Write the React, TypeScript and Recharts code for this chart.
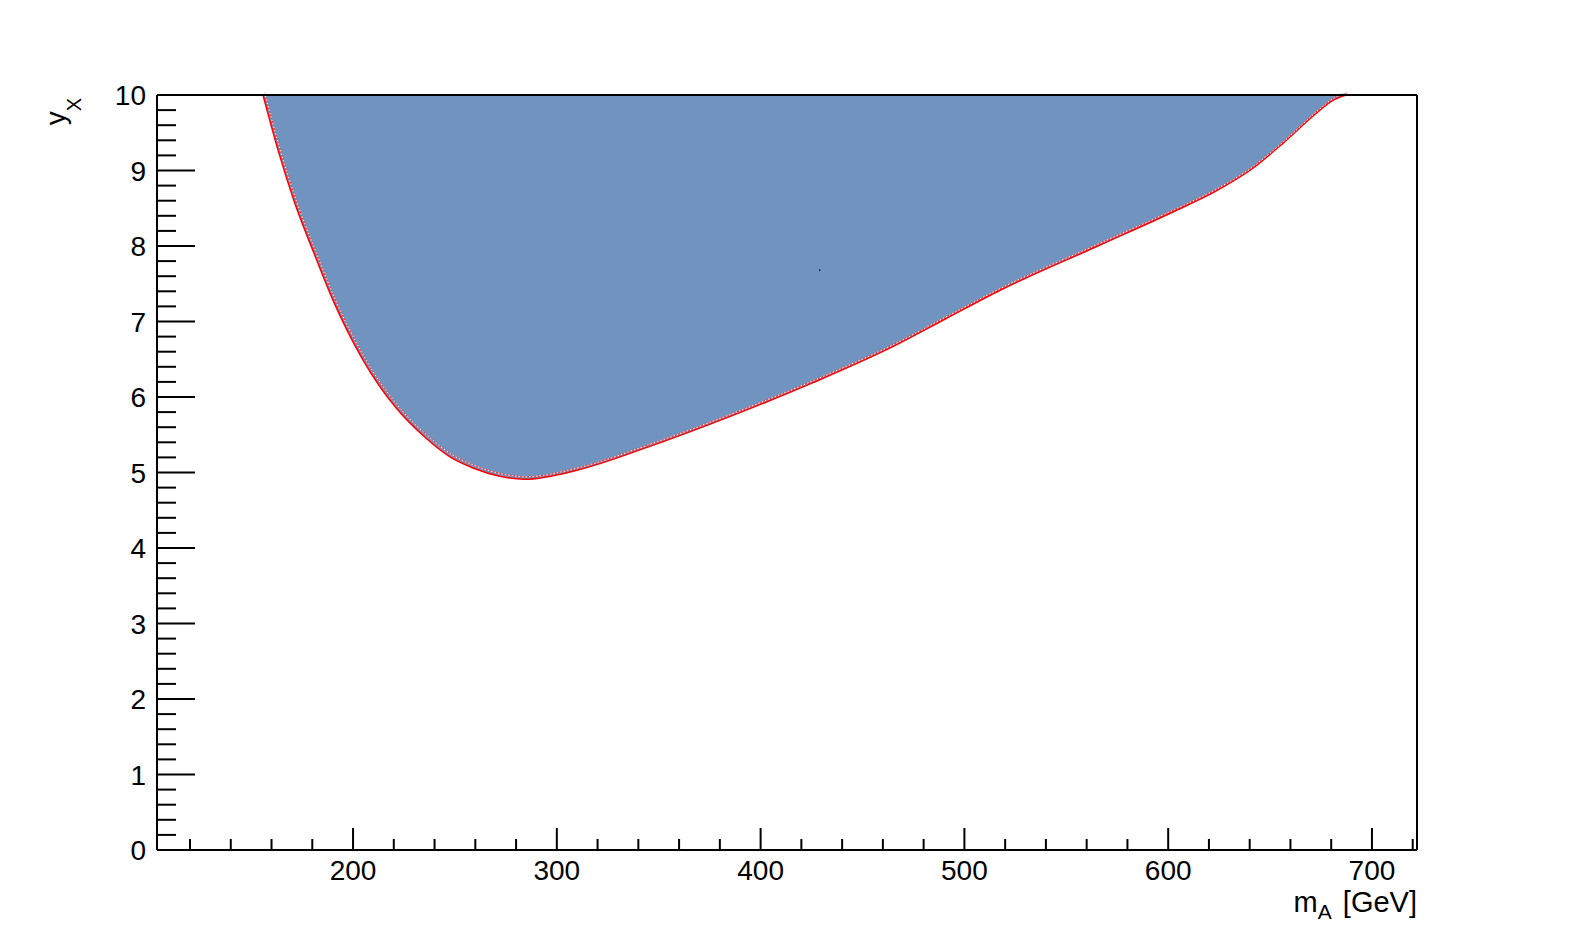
import React from "react";
import { ComposedChart, Area, Line, XAxis, YAxis, Scatter } from "recharts";

// boundary of the excluded region (m_A [GeV], y_X)
const massValues = [
  155.8, 163.2, 171.4, 181.2, 190.2, 204.9, 221.3, 236.0, 247.4, 258.9, 272.0,
  284.0, 311.2, 343.9, 384.8, 425.7, 466.6, 491.1, 517.3, 566.3, 602.3, 623.6,
  640.0, 656.3, 672.7, 680.8, 687.4,
];
const yxValues = [
  10.0, 9.27, 8.57, 7.88, 7.28, 6.49, 5.85, 5.45, 5.21, 5.06, 4.95,
  4.91, 5.04, 5.33, 5.74, 6.19, 6.69, 7.04, 7.41, 8.01, 8.45, 8.73,
  9.0, 9.36, 9.76, 9.93, 10.0,
];
const yTop = 10;

const markerPoint = [{ m: 429, y: 7.68 }];

const xMajorTicks = [200, 300, 400, 500, 600, 700];
const xAllTicks = [
  120, 140, 160, 180, 200, 220, 240, 260, 280, 300, 320, 340, 360, 380, 400,
  420, 440, 460, 480, 500, 520, 540, 560, 580, 600, 620, 640, 660, 680, 700, 720,
];
const yMajorTicks = [0, 1, 2, 3, 4, 5, 6, 7, 8, 9, 10];
const yAllTicks = [
  0, 0.2, 0.4, 0.6, 0.8, 1, 1.2, 1.4, 1.6, 1.8, 2, 2.2, 2.4, 2.6, 2.8, 3, 3.2,
  3.4, 3.6, 3.8, 4, 4.2, 4.4, 4.6, 4.8, 5, 5.2, 5.4, 5.6, 5.8, 6, 6.2, 6.4, 6.6,
  6.8, 7, 7.2, 7.4, 7.6, 7.8, 8, 8.2, 8.4, 8.6, 8.8, 9, 9.2, 9.4, 9.6, 9.8, 10,
];

const data = massValues.map((m, i) => ({
  m,
  y: yxValues[i],
  band: [yxValues[i], yTop],
}));

const FONT = "'Liberation Sans', Arial, Helvetica, sans-serif";
const FILL = "#7094bf";

const XTick = (props: any) => {
  const { x, y, payload } = props;
  const major = xMajorTicks.includes(payload.value);
  return (
    <g>
      <line x1={x} x2={x} y1={y} y2={y - (major ? 22 : 11)} stroke="#000" strokeWidth={2} />
      {major && (
        <text x={x} y={y + 30} textAnchor="middle" fontSize={28} fontFamily={FONT} fill="#000">
          {payload.value}
        </text>
      )}
    </g>
  );
};

const YTick = (props: any) => {
  const { x, y, payload } = props;
  const major = yMajorTicks.includes(payload.value);
  return (
    <g>
      <line x1={x} x2={x + (major ? 38 : 19)} y1={y} y2={y} stroke="#000" strokeWidth={2} />
      {major && (
        <text x={x - 11} y={y} dy="0.36em" textAnchor="end" fontSize={28} fontFamily={FONT} fill="#000">
          {payload.value}
        </text>
      )}
    </g>
  );
};

const XTitle = (props: any) => {
  const vb = props.viewBox || {};
  const xr = vb.x + vb.width;
  const yb = vb.y + 62;
  return (
    <text x={xr} y={yb} textAnchor="end" fontSize={29} fontFamily={FONT} fill="#000">
      <tspan>m</tspan>
      <tspan fontSize={21} dy={7}>A</tspan>
      <tspan dy={-7} dx={3}>{"\u00a0[GeV]"}</tspan>
    </text>
  );
};

const YTitle = (props: any) => {
  const vb = props.viewBox || {};
  const bx = vb.x + vb.width - 92;
  const ty = vb.y + 3;
  return (
    <text
      transform={`translate(${bx},${ty}) rotate(-90)`}
      x={0}
      y={0}
      textAnchor="end"
      fontSize={28}
      fontFamily={FONT}
      fill="#000"
    >
      <tspan>y</tspan>
      <tspan fontSize={20} dy={16}>X</tspan>
    </text>
  );
};

export default function App() {
  return (
    <div style={{ position: "absolute", left: 0, top: 0, width: 1575, height: 945, background: "#fff" }}>
      <ComposedChart
        width={1575}
        height={945}
        data={data}
        margin={{ top: 94, right: 157, bottom: 94, left: 156 }}
      >
        <XAxis
          xAxisId="b"
          dataKey="m"
          type="number"
          domain={[103.8, 722.1]}
          allowDataOverflow
          ticks={xAllTicks}
          interval={0}
          tick={<XTick />}
          tickLine={false}
          tickSize={0}
          tickMargin={0}
          height={1}
          axisLine={{ stroke: "#000", strokeWidth: 2 }}
          label={<XTitle />}
        />
        <XAxis
          xAxisId="t"
          orientation="top"
          dataKey="m"
          type="number"
          domain={[103.8, 722.1]}
          allowDataOverflow
          tick={false}
          tickLine={false}
          height={1}
          axisLine={{ stroke: "#000", strokeWidth: 2 }}
        />
        <YAxis
          yAxisId="l"
          type="number"
          domain={[0, 10]}
          allowDataOverflow
          ticks={yAllTicks}
          interval={0}
          tick={<YTick />}
          tickLine={false}
          tickSize={0}
          tickMargin={0}
          width={1}
          axisLine={{ stroke: "#000", strokeWidth: 2 }}
          label={<YTitle />}
        />
        <YAxis
          yAxisId="r"
          orientation="right"
          type="number"
          domain={[0, 10]}
          allowDataOverflow
          tick={false}
          tickLine={false}
          width={1}
          axisLine={{ stroke: "#000", strokeWidth: 2 }}
        />
        <Area
          xAxisId="b"
          yAxisId="l"
          dataKey="band"
          type="monotone"
          stroke="none"
          fill={FILL}
          fillOpacity={1}
          isAnimationActive={false}
        />
        <Line
          xAxisId="b"
          yAxisId="l"
          dataKey="y"
          type="monotone"
          stroke="#ff0000"
          strokeWidth={1.5}
          dot={false}
          isAnimationActive={false}
        />
        <Line
          xAxisId="b"
          yAxisId="l"
          dataKey="y"
          type="monotone"
          stroke="#ff3030"
          strokeWidth={1}
          dot={false}
          style={{ transform: "translate(1.5px,-2.5px)" }}
          isAnimationActive={false}
        />
        <Line
          xAxisId="b"
          yAxisId="l"
          dataKey="y"
          type="monotone"
          stroke="#ffffff"
          strokeWidth={1}
          strokeDasharray="1.5 2"
          dot={false}
          style={{ transform: "translate(1.5px,-2.5px)" }}
          isAnimationActive={false}
        />
        <Scatter
          xAxisId="b"
          yAxisId="l"
          data={markerPoint}
          dataKey="y"
          fill="#000"
          shape={(p: any) => <circle cx={p.cx} cy={p.cy} r={0.8} fill="#000" />}
          isAnimationActive={false}
        />
      </ComposedChart>
    </div>
  );
}
